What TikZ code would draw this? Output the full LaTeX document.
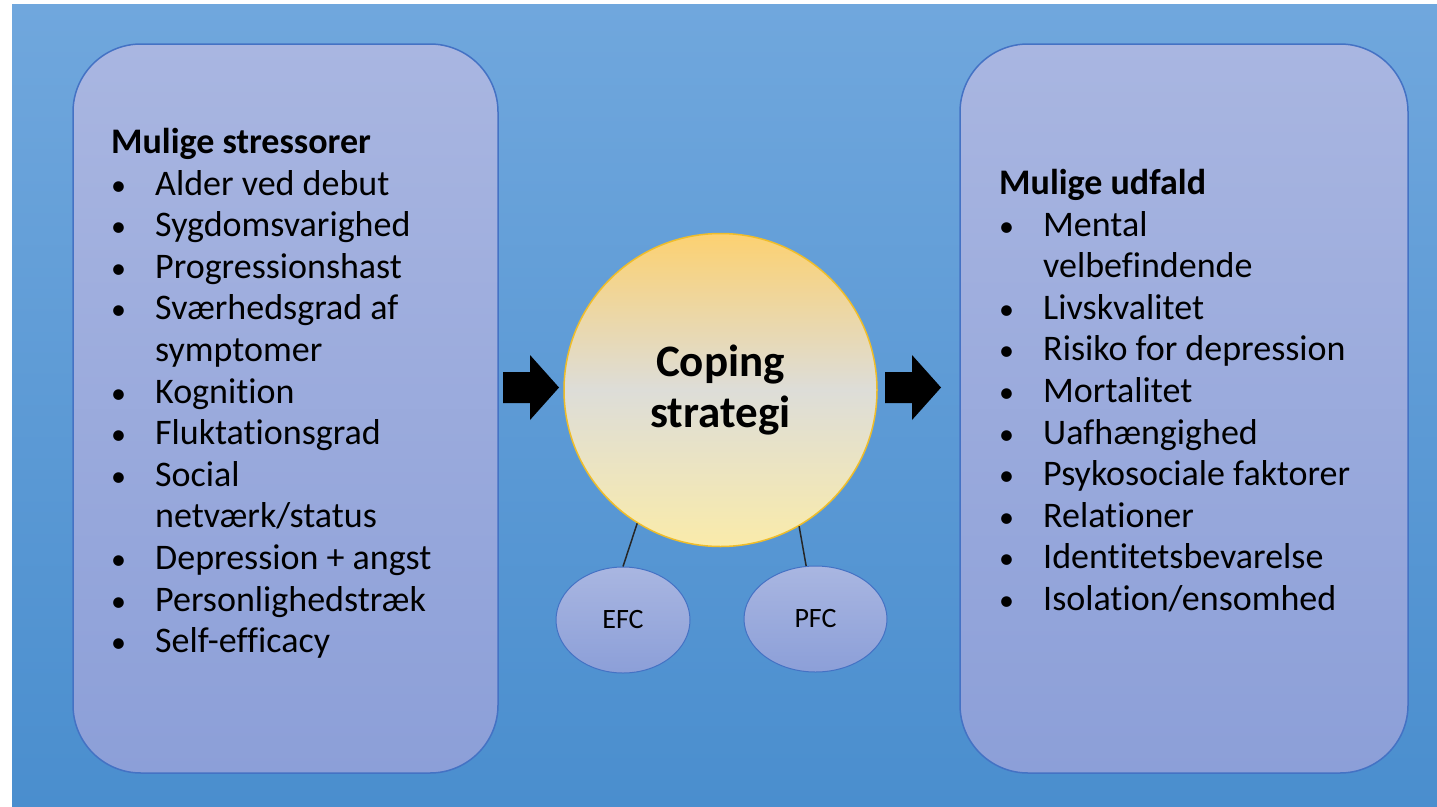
\documentclass[tikz,border=0pt]{standalone}
\usepackage{fontspec}
\setmainfont{Carlito}[Ligatures=NoCommon]
\usetikzlibrary{shapes.geometric}
\definecolor{bgtop}{HTML}{70A7DD}
\definecolor{bgbot}{HTML}{4A8ECE}
\definecolor{boxtop}{HTML}{A9B6E1}
\definecolor{boxbot}{HTML}{8C9FD8}
\definecolor{boxline}{HTML}{4472C4}
\definecolor{suntop}{HTML}{FCD171}
\definecolor{sunmid}{HTML}{DDDDD8}
\definecolor{sunbot}{HTML}{FAEBAA}
\definecolor{sunline}{HTML}{EFBD2A}
\tikzstyle{panel}=[draw=boxline,line width=1.5pt,top color=boxtop,bottom color=boxbot,rounded corners=68pt,minimum height=729pt]
\tikzstyle{bubble}=[ellipse,draw=boxline,line width=1pt,top color=boxtop,bottom color=boxbot,inner sep=0pt,minimum height=106pt,font=\fontsize{28}{30}\selectfont]
\tikzstyle{core}=[circle,draw=sunline,line width=1.5pt,top color=suntop,bottom color=sunbot,middle color=sunmid,minimum size=313pt,align=center,font=\bfseries\fontsize{45}{51}\selectfont]
\tikzstyle{entry}=[inner sep=0pt,anchor=base west,font=\fontsize{36}{42}\selectfont]
\tikzstyle{head}=[entry,font=\bfseries\fontsize{36}{42}\selectfont]
\tikzstyle{bul}=[entry,font=\fontsize{30}{42}\selectfont]
\tikzstyle{stem}=[line width=1.5pt,black!85]
\tikzstyle{push}=[fill=black]
\begin{document}
\begin{tikzpicture}[x=1pt,y=-1pt]
	\useasboundingbox (0,0) rectangle (1437,806);
	\shade[top color=bgtop,bottom color=bgbot] (12,4) rectangle (1437,806);
	\node[panel,minimum width=425pt] (stress) at (285.5,408.5) {};
	\node[panel,minimum width=448pt] (outcome) at (1184,408.5) {};
	\node[core] (coping) at (720.5,390) {Coping\\strategi};
	\node[bubble,minimum width=134pt] (efc) at (623,620) {EFC};
	\node[bubble,minimum width=143pt] (pfc) at (815.5,619) {PFC};
	\draw[stem] (coping.238) -- (efc.north);
	\draw[stem] (coping.300) -- (pfc.100);
	% block arrows
	\foreach \x in {503,885}
		\fill[push,shift={(\x,0)}] (0,372) -- (27,372) -- (27,355) -- (56,387.5)
			-- (27,420) -- (27,403) -- (0,403) -- cycle;
	% stressors
	\node[head] (stitle) at (111,153) {Mulige stressorer};
	\foreach \b/\t [count=\i from 0] in {1/Alder ved debut,1/Sygdomsvarighed,
		1/Progressionshast,1/Sværhedsgrad af,0/symptomer,1/Kognition,
		1/Fluktationsgrad,1/Social,0/{netværk/status},1/Depression + angst,
		1/Personlighedstræk,1/Self-efficacy}{
		\node[entry] (s\i) at (155,{195+41.6*\i}) {\t};
		\ifnum\b=1 \node[bul] (sb\i) at (111,{195+41.6*\i}) {\textbullet}; \fi
	}
	% outcomes
	\node[head] (otitle) at (999,194) {Mulige udfald};
	\foreach \b/\t [count=\i from 0] in {1/Mental,0/velbefindende,1/Livskvalitet,
		1/Risiko for depression,1/Mortalitet,1/Uafhængighed,
		1/Psykosociale faktorer,1/Relationer,1/Identitetsbevarelse,
		1/{Isolation/ensomhed}}{
		\node[entry] (o\i) at (1043,{236+41.6*\i}) {\t};
		\ifnum\b=1 \node[bul] (ob\i) at (999,{236+41.6*\i}) {\textbullet}; \fi
	}
\end{tikzpicture}
\end{document}
